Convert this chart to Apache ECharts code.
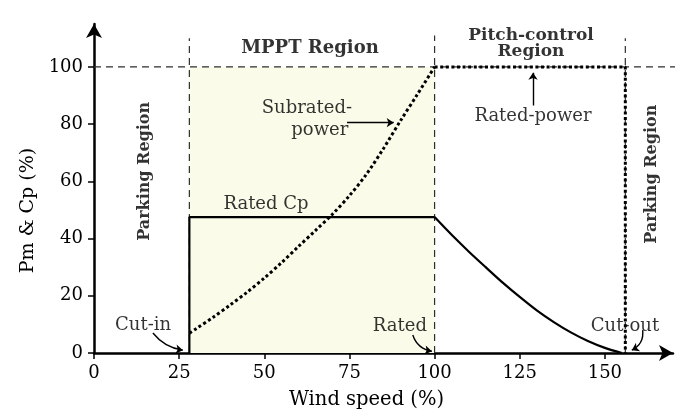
<!DOCTYPE html>
<html>
<head>
<meta charset="utf-8">
<script src="https://cdn.jsdelivr.net/npm/echarts@6/dist/echarts.min.js"></script>
<style>html,body{margin:0;padding:0;background:#fff;}#c{width:680px;height:417px;}</style>
</head>
<body>
<div id="c"></div>
<script>
// ---- data ----
const xTicks = [0, 25, 50, 75, 100, 125, 150];
const yTicks = [0, 20, 40, 60, 80, 100];
const cutIn = 28, ratedSpeed = 100, cutOut = 156;
const cpFlat = [[28, 0], [28, 47.5], [100, 47.5]];
const cpPitch = [[100, 47.5], [105, 41.3], [110, 35.5], [115, 30.0], [120, 24.6], [125, 19.6], [130, 14.9], [135, 10.8], [140, 7.2], [145, 4.2], [150, 1.8], [155, 0]];
const subrated = [[28, 6.9], [30, 8.5], [35, 12.5], [40, 16.8], [45, 21.3], [50, 26.2], [55, 31.5], [60, 37.2], [65, 42.8], [70, 48.5], [75, 55], [80, 62.5], [85, 71.5], [90, 81.2], [95, 90.5], [100, 100]];
const ratedPower = [[100, 100], [156, 100], [156, 0]];

const FONT = 'DejaVu Serif';
const chart = echarts.init(document.getElementById('c'), null, {renderer: 'canvas'});

const dashStyle = {color: '#2e2e2e', width: 1.2, type: [7, 5]};
const dotStyle = {color: '#000', width: 3, type: [3, 2.6]};
function refLine(pts) {
  return {type: 'line', data: pts, symbol: 'none', silent: true, z: 1, clip: false,
    lineStyle: dashStyle, animation: false};
}
function txt(x, y, text, extra) {
  return {value: [x, y], label: Object.assign({show: true, formatter: text, color: '#000',
    fontFamily: FONT, fontSize: 18, textBorderWidth: 0}, extra || {})};
}
const bold = (size, more) => Object.assign({fontWeight: 'bold', fontSize: size}, more || {});

const annoTexts = [
  txt(63.4, 106.6, 'MPPT Region', bold(18)),
  txt(128.3, 108.2, 'Pitch-control\nRegion', bold(17, {lineHeight: 16})),
  txt(62.5, 85.5, 'Subrated-'),
  txt(66.3, 77.8, 'power'),
  txt(128.9, 82.7, 'Rated-power'),
  txt(50.5, 52, 'Rated Cp'),
  txt(14.4, 9.8, 'Cut-in'),
  txt(89.8, 9.4, 'Rated'),
  txt(155.9, 9.4, 'Cut-out'),
  txt(15, 63.5, 'Parking Region', bold(16, {rotate: 90})),
  txt(163.8, 62.5, 'Parking Region', bold(16, {rotate: 90}))
];

const arrows = [
  {coords: [[17.3, 7.0], [26.1, 1.0]], lineStyle: {curveness: -0.2}},
  {coords: [[93.6, 6.3], [99.2, 0.6]], lineStyle: {curveness: -0.3}},
  {coords: [[161.1, 8.0], [157.9, 1.0]], lineStyle: {curveness: 0.35}},
  {coords: [[74.3, 80.5], [88.0, 80.5]], lineStyle: {curveness: 0}},
  {coords: [[128.9, 86.5], [128.9, 98.0]], lineStyle: {curveness: 0}}
];

const option = {
  animation: false,
  backgroundColor: '#fff',
  textStyle: {fontFamily: FONT, color: '#000'},
  grid: {left: 94, right: 7, top: 24, bottom: 64, containLabel: false},
  xAxis: {
    type: 'value', min: 0, max: 170,
    name: 'Wind speed (%)', nameLocation: 'middle', nameGap: 37,
    nameTextStyle: {fontFamily: FONT, fontSize: 19.5, color: '#000', padding: [0, 34, 0, 0]},
    axisLine: {show: true, symbol: ['none', 'arrow'], symbolSize: [12, 14], lineStyle: {color: '#000', width: 2.5}},
    axisTick: {show: true, length: 6, customValues: xTicks, lineStyle: {color: '#000', width: 1.5}},
    axisLabel: {customValues: xTicks, fontFamily: FONT, fontSize: 18, color: '#000', margin: 11},
    splitLine: {show: false}
  },
  yAxis: {
    type: 'value', min: 0, max: 115,
    name: 'Pm & Cp (%)', nameLocation: 'middle', nameGap: 56, nameRotate: 90,
    nameTextStyle: {fontFamily: FONT, fontSize: 19, color: '#000', padding: [0, 44, 0, 0]},
    axisLine: {show: true, symbol: ['none', 'arrow'], symbolSize: [12, 14], lineStyle: {color: '#000', width: 2.5}},
    axisTick: {show: true, length: 6, customValues: yTicks, lineStyle: {color: '#000', width: 1.5}},
    axisLabel: {customValues: yTicks, fontFamily: FONT, fontSize: 18, color: '#000', margin: 11},
    splitLine: {show: false}
  },
  series: [
    {type: 'line', data: [], symbol: 'none', z: 0,
      markArea: {silent: true, itemStyle: {color: '#fafce9'},
        data: [[{coord: [cutIn, 0]}, {coord: [ratedSpeed, 100]}]]}},
    refLine([[cutIn, 0], [cutIn, 110]]),
    refLine([[ratedSpeed, 0], [ratedSpeed, 111]]),
    refLine([[cutOut, 0], [cutOut, 110]]),
    refLine([[0, 100], [172.5, 100]]),
    {type: 'line', data: cpFlat, symbol: 'none', z: 3, lineStyle: {color: '#000', width: 2.2}},
    {type: 'line', data: cpPitch, symbol: 'none', smooth: 0.3, z: 3, lineStyle: {color: '#000', width: 2.2}},
    {type: 'line', data: subrated, symbol: 'none', smooth: 0.3, z: 4, lineStyle: dotStyle},
    {type: 'line', data: ratedPower, symbol: 'none', z: 4, lineStyle: dotStyle},
    {type: 'lines', coordinateSystem: 'cartesian2d', z: 5, silent: true,
      symbol: ['none', 'arrow'], symbolSize: 7,
      lineStyle: {color: '#000', width: 1.4, opacity: 1},
      data: arrows},
    {type: 'scatter', symbolSize: 0, z: 6, silent: true,
      itemStyle: {color: '#000'},
      label: {show: true, position: 'inside', fontFamily: FONT, fontSize: 18, color: '#000'},
      data: annoTexts}
  ]
};
chart.setOption(option);
</script>
</body>
</html>
